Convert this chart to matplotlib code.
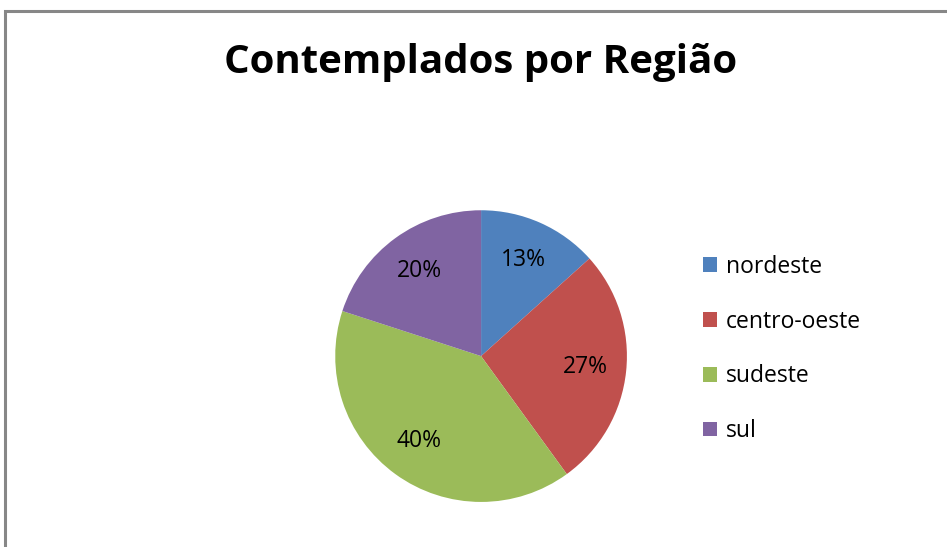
import matplotlib.pyplot as plt
from matplotlib.patches import Rectangle

regioes = ["nordeste", "centro-oeste", "sudeste", "sul"]
contemplados = [2, 4, 6, 3]
cores = ["#4F81BD", "#C0504D", "#9BBB59", "#8064A2"]

plt.rcParams['font.family'] = ['Open Sans', 'DejaVu Sans']

fig = plt.figure(figsize=(9.47, 5.47), dpi=100)

# moldura cinza (cortada a direita e embaixo)
fig.patches.append(Rectangle((5 / 947, -0.1), 1.2, 1.1 - 11 / 547,
                             transform=fig.transFigure, fill=False,
                             edgecolor="#878787", linewidth=2.2))

ax = fig.add_axes([0.354, 0.082, 0.308, 0.534])
wedges, texts, autotexts = ax.pie(contemplados, colors=cores, startangle=90,
                                  counterclock=False, autopct="%1.0f%%",
                                  pctdistance=0.72,
                                  textprops={"fontsize": 16.5, "color": "black"})
ax.set_xlim(-1, 1)
ax.set_ylim(-1, 1)
ax.set_aspect("equal")

fig.text(481 / 947, 1 - 63 / 547, "Contemplados por Região", ha="center",
         va="center", fontsize=29, fontweight="bold")

fig.legend(wedges, regioes, loc="center left",
           bbox_to_anchor=(682 / 947, 1 - 349 / 547), frameon=False,
           fontsize=16.5, handlelength=0.62, handleheight=0.62,
           handletextpad=0.4, labelspacing=1.34)

fig.savefig("out.png", dpi=100)
